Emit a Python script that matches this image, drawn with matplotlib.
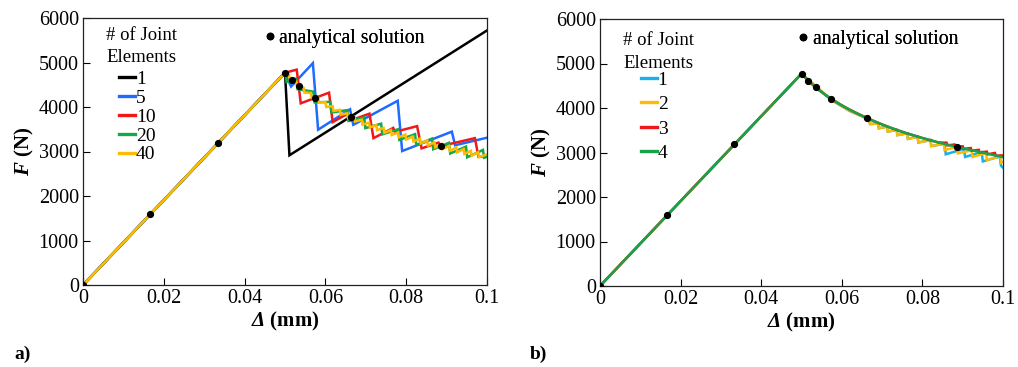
import matplotlib
matplotlib.use("Agg")
import matplotlib.pyplot as plt
from matplotlib.lines import Line2D

plt.rcParams['font.family'] = ['Liberation Serif', 'DejaVu Serif']
plt.rcParams['mathtext.fontset'] = 'custom'
plt.rcParams['mathtext.rm'] = 'Liberation Serif'
plt.rcParams['mathtext.it'] = 'Liberation Serif:italic'
plt.rcParams['mathtext.bf'] = 'Liberation Serif:bold'
plt.rcParams['mathtext.bfit'] = 'Liberation Serif:italic:bold'

# ---------------- analytical solution (both panels) ----------------
ana_d = [0.0, 0.01667, 0.03333, 0.0500, 0.05172, 0.05348, 0.0574, 0.06628, 0.08858]
ana_f = [0, 1590, 3180, 4770, 4610, 4470, 4210, 3770, 3120]

# ---------------- panel a: number of joint elements ----------------
a_labels = ['1', '5', '10', '20', '40']
a_colors = ['#000000', '#1f6bff', '#f01818', '#13a84a', '#ffbb00']

a1_d = [0.0, 0.0500, 0.0511, 0.1000]
a1_f = [0, 4770, 2915, 5720]

a5_d = [0.0, 0.0500, 0.0515, 0.0569, 0.0582, 0.0661, 0.0669, 0.0779, 0.0790,
        0.0913, 0.0921, 0.1000]
a5_f = [0, 4770, 4460, 4985, 3490, 3948, 3600, 4140, 3010, 3446, 3140, 3310]

a10_d = [0.0, 0.0500, 0.0529, 0.0539, 0.0609, 0.0618, 0.0655, 0.0660, 0.0709,
         0.0719, 0.0768, 0.0772, 0.0827, 0.0838, 0.0880, 0.0885, 0.0970, 0.0979,
         0.1000]
a10_f = [0, 4770, 4840, 4083, 4322, 3660, 3850, 3690, 3850, 3300, 3530, 3440,
         3570, 3070, 3200, 3120, 3300, 2880, 2900]

a20_d = [0.0, 0.0500, 0.0504, 0.0528, 0.0531, 0.0570, 0.0573, 0.0612, 0.0615,
         0.0654, 0.0657, 0.0696, 0.0699, 0.0738, 0.0741, 0.0780, 0.0783, 0.0822,
         0.0825, 0.0864, 0.0867, 0.0906, 0.0909, 0.0948, 0.0951, 0.0990, 0.0993,
         0.1000]
a20_f = [0, 4770, 4560, 4640, 4400, 4345, 4105, 4115, 3875, 3930, 3690, 3765,
         3525, 3625, 3385, 3500, 3260, 3390, 3150, 3290, 3050, 3195, 2955, 3110,
         2870, 3035, 2860, 2880]

a40_d = [0.0, 0.0500, 0.0510, 0.0512, 0.0528, 0.0530, 0.0546, 0.0548, 0.0564,
         0.0566, 0.0582, 0.0584, 0.0600, 0.0602, 0.0618, 0.0620, 0.0636, 0.0638,
         0.0654, 0.0656, 0.0672, 0.0674, 0.0690, 0.0692, 0.0708, 0.0710, 0.0726,
         0.0728, 0.0744, 0.0746, 0.0762, 0.0764, 0.0780, 0.0782, 0.0798, 0.0800,
         0.0816, 0.0818, 0.0834, 0.0836, 0.0852, 0.0854, 0.0870, 0.0872, 0.0888,
         0.0890, 0.0906, 0.0908, 0.0924, 0.0926, 0.0942, 0.0944, 0.0960, 0.0962,
         0.0978, 0.0980, 0.1000]
a40_f = [0, 4770, 4725, 4615, 4570, 4460, 4435, 4325, 4315, 4205, 4210, 4100,
         4110, 4000, 4020, 3910, 3935, 3825, 3860, 3750, 3785, 3675, 3715, 3605,
         3650, 3540, 3590, 3480, 3530, 3420, 3480, 3370, 3430, 3320, 3380, 3270,
         3335, 3225, 3290, 3180, 3245, 3135, 3205, 3095, 3165, 3055, 3125, 3015,
         3090, 2980, 3055, 2945, 3015, 2905, 2985, 2875, 2935]

# ---------------- panel b ----------------
b_labels = ['1', '2', '3', '4']
b_colors = ['#1aaeea', '#ffbb00', '#f01818', '#16a34a']

b1_d = [0.0, 0.0500, 0.0574, 0.0620, 0.0668, 0.0670, 0.0690, 0.0692, 0.0712,
        0.0714, 0.0736, 0.0738, 0.0762, 0.0764, 0.0788, 0.0790, 0.0820, 0.0822,
        0.0855, 0.0858, 0.0903, 0.0906, 0.0947, 0.0950, 0.0992, 0.0995, 0.1000]
b1_f = [0, 4770, 4180, 3930, 3745, 3640, 3650, 3545, 3580, 3470, 3510, 3390,
        3430, 3305, 3355, 3225, 3280, 3145, 3195, 2960, 3080, 2900, 3010, 2800,
        2910, 2700, 2660]

b2_d = [0.0, 0.0500, 0.0574, 0.0620, 0.0668, 0.0670, 0.0690, 0.0692, 0.0712,
        0.0714, 0.0736, 0.0738, 0.0762, 0.0764, 0.0788, 0.0790, 0.0820, 0.0822,
        0.0853, 0.0855, 0.0886, 0.0888, 0.0922, 0.0924, 0.0958, 0.0960, 0.0993,
        0.0995, 0.1000]
b2_f = [0, 4770, 4185, 3935, 3745, 3640, 3650, 3545, 3580, 3470, 3510, 3390,
        3430, 3305, 3355, 3225, 3280, 3145, 3195, 3055, 3125, 2980, 3050, 2900,
        2985, 2830, 2920, 2770, 2790]

b3_d = [0.0, 0.0500, 0.0520, 0.0540, 0.0560, 0.0580, 0.0600, 0.0620, 0.0640,
        0.0660, 0.0680, 0.0700, 0.0720, 0.0740, 0.0760, 0.0780, 0.0800, 0.0820,
        0.0840, 0.0860, 0.0862, 0.0880, 0.0882, 0.0900, 0.0902, 0.0920, 0.0922,
        0.0940, 0.0942, 0.0960, 0.0962, 0.0980, 0.0982, 0.1000]
b3_f = [0, 4770, 4585, 4425, 4290, 4170, 4060, 3960, 3870, 3785, 3705, 3630,
        3560, 3495, 3435, 3380, 3325, 3275, 3225, 3220, 3160, 3180, 3120, 3140,
        3080, 3100, 3040, 3060, 3000, 3020, 2960, 2990, 2930, 2935]

b4_d = [0.0, 0.0500, 0.0520, 0.0540, 0.0560, 0.0580, 0.0600, 0.0620, 0.0640,
        0.0660, 0.0680, 0.0700, 0.0720, 0.0740, 0.0760, 0.0780, 0.0800, 0.0820,
        0.0840, 0.0860, 0.0880, 0.0900, 0.0920, 0.0940, 0.0960, 0.0980, 0.1000]
b4_f = [0, 4770, 4585, 4425, 4290, 4170, 4060, 3960, 3870, 3785, 3705, 3630,
        3560, 3495, 3435, 3380, 3325, 3275, 3225, 3180, 3135, 3095, 3055, 3015,
        2975, 2935, 2895]

x_ticks = [0, 0.02, 0.04, 0.06, 0.08, 0.1]
x_ticklabels = ['0', '0.02', '0.04', '0.06', '0.08', '0.1']
y_ticks = [0, 1000, 2000, 3000, 4000, 5000, 6000]

TICK_FS = 14.5
LW = 1.8

fig = plt.figure(figsize=(10.18, 3.67), dpi=100)
ax_a = fig.add_axes([83 / 1018, 82 / 367, 404 / 1018, 267 / 367])
ax_b = fig.add_axes([600 / 1018, 81 / 367, 403 / 1018, 267 / 367])


def style_axes(ax):
    ax.set_xlim(0, 0.1)
    ax.set_ylim(0, 6000)
    ax.set_xticks(x_ticks)
    ax.set_xticklabels(x_ticklabels)
    ax.set_yticks(y_ticks)
    ax.tick_params(direction='in', length=5, width=0.8, labelsize=TICK_FS,
                   pad=3, top=False, right=False)
    for s in ax.spines.values():
        s.set_linewidth(0.9)
        s.set_color('#222222')
    ax.set_xlabel(r'$\mathbfit{\Delta}$ (mm)', fontsize=15, fontweight='bold',
                  labelpad=1)
    ax.set_ylabel(r'$\mathbfit{F}$ (N)', fontsize=15, fontweight='bold',
                  labelpad=2)


def draw_panel(ax, series, labels, colors, title_xy, leg_xy, spacing,
               ana_xy):
    handles = []
    for (d, f), lab, col in zip(series, labels, colors):
        ax.plot(d, f, color=col, lw=LW, solid_joinstyle='miter',
                label=lab, zorder=2)
        handles.append(Line2D([], [], color=col, lw=2.4))
    ax.plot(ana_d, ana_f, 'o', color='black', ms=4.2, ls='none', zorder=5)
    style_axes(ax)

    ax.text(title_xy[0], title_xy[1], '# of Joint\nElements',
            transform=ax.transAxes, ha='left', va='top', fontsize=13.5,
            linespacing=1.45)
    leg = ax.legend(handles, labels, loc='upper left', bbox_to_anchor=leg_xy,
                    frameon=False, fontsize=14, handlelength=0.8,
                    handletextpad=0.05, labelspacing=spacing, borderpad=0,
                    borderaxespad=0)
    ax.add_artist(leg)
    leg2 = ax.legend([Line2D([], [], marker='o', color='black', ms=4.5,
                             ls='none')],
                     ['analytical solution'], loc='center left',
                     bbox_to_anchor=ana_xy, frameon=False, fontsize=14.2,
                     handlelength=0.4, handletextpad=0.3, borderpad=0,
                     borderaxespad=0, numpoints=1)
    ax.add_artist(leg2)


draw_panel(ax_a,
           [(a1_d, a1_f), (a5_d, a5_f), (a10_d, a10_f), (a20_d, a20_f),
            (a40_d, a40_f)],
           a_labels, a_colors,
           title_xy=(0.058, 0.968), leg_xy=(0.090, 0.803), spacing=0.06,
           ana_xy=(0.452, 0.925))

draw_panel(ax_b,
           [(b1_d, b1_f), (b2_d, b2_f), (b3_d, b3_f), (b4_d, b4_f)],
           b_labels, b_colors,
           title_xy=(0.058, 0.952), leg_xy=(0.102, 0.805), spacing=0.35,
           ana_xy=(0.495, 0.922))

fig.text(14 / 1018, 13 / 367, 'a)', fontsize=14, fontweight='bold',
         ha='left', va='center')
fig.text(530 / 1018, 13 / 367, 'b)', fontsize=14, fontweight='bold',
         ha='left', va='center')

fig.savefig('out.png', dpi=100, facecolor='white')
